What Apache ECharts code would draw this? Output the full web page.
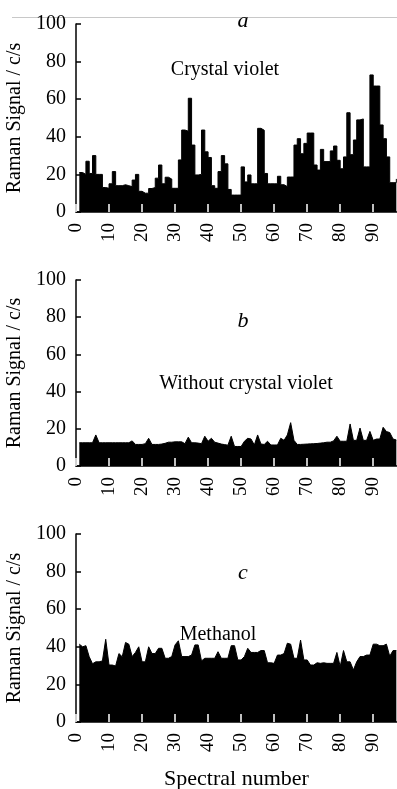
<!DOCTYPE html>
<html><head><meta charset="utf-8">
<script src="https://cdn.jsdelivr.net/npm/echarts@6/dist/echarts.min.js"></script>
<style>html,body{margin:0;padding:0;background:#fff}#c{width:397px;height:789px}</style>
</head><body><div id="c"></div>
<script>
// Spectral numbers start at 1
const spectralStart = 1;
// Panel a: Crystal violet
const crystalViolet = [21,20,27,20.5,30,20,20,13,12.6,15,21.5,14,14,14.5,14,13.5,17,20,11,10,10,12.5,13,18,25,15,18.5,17.5,12.6,12.6,
  27.7,43.6,43,60.5,35.6,19.7,20,43.6,32,29,14,12.6,21.5,30,25.6,12,9,9,9,24,16,19.7,15,15,44.5,43.5,20.5,15,15,15,
  19,14.5,13.5,18.6,18.6,35.6,39,31,36.5,42,42,25,22.3,33.3,26.8,26.8,32.5,35.1,27.5,23,29.3,52.8,30.5,38.3,49,49.5,24,24,
  72.9,67,67,46.3,39,29.3,15.6,15.6,17.6];
// Panel b: Without crystal violet
const withoutCV = [12.5,12.5,12.5,12.5,12.5,16.7,12.5,12.5,12.5,12.5,12.5,12.5,12.5,12.5,12.5,12.5,13.5,11.6,11.6,11.6,12,14.9,11.6,11.6,11.6,11.8,12.2,12.8,12.8,13,
  13,13,12,15.5,12.5,12.5,12.3,12,16,13.3,14.9,12.8,12.3,11.8,11.5,11.2,16,10.5,10.5,10.5,13.3,14.9,14.5,11.3,16.7,11.8,11.6,13.3,11.3,11.3,
  11.3,14.9,13.8,16.7,23.3,13.8,11.6,11.6,11.7,11.8,11.9,12,12.1,12.3,12.5,12.8,12.8,13.5,16,13.3,13.3,13.3,22.6,13.8,13.8,20.4,13.8,13.8,
  18.6,13.8,14.5,14.5,20.8,18.5,18,14.5,14];
// Panel c: Methanol
const methanol = [41.4,40,40.6,34.7,31,32,32,32.5,44,30.3,30.3,29.8,36.4,34.7,42.3,41.4,34.8,37,40,32,32,40,36.4,36.4,39.2,39.2,33.9,33.9,34.8,41,
  43.2,34.8,34.8,34.8,35.6,41,41,32.5,33.9,33.9,33.9,33.9,37.4,33.9,33.9,33.9,40.6,40.6,33,33,34.8,39.2,37,37,37,38,38,31.5,31.5,31.2,
  35.6,35.6,36.4,41.9,41.4,33.9,33.9,43.6,33,33,30.3,30.3,31.5,31.2,31.5,31.2,31.2,31.2,37,29.5,38,32,32,27.7,32,34.8,34.8,35.6,35.6,41.4,
  41.4,40.6,40.6,41.4,35,38,38];
const xTicks = [0,10,20,30,40,50,60,70,80,90];
const panelLetters = ['a','b','c'];
const panelNames = ['Crystal violet','Without crystal violet','Methanol'];
const yName = 'Raman Signal / c/s';
const xName = 'Spectral number';

const FONT = '"Liberation Serif","Times New Roman",serif';
const series = [crystalViolet, withoutCV, methanol];
const tops = [24, 280, 534];
const heights = [188, 186, 188];

const grids = [], xAxes = [], yAxes = [], ser = [];
series.forEach((vals, i) => {
  grids.push({left: 76, top: tops[i], width: 321, height: heights[i], containLabel: false, outerBoundsMode: 'none'});
  xAxes.push({
    type: 'value', gridIndex: i, min: 0, max: 97.2, z: 5,
    axisLine: {show: true, onZero: false, lineStyle: {color: '#000', width: 1.5}},
    axisTick: {show: true, inside: true, length: 8, customValues: xTicks, lineStyle: {color: '#fff', width: 1.5}},
    axisLabel: {show: true, rotate: 90, customValues: xTicks, fontSize: 19, fontFamily: FONT, color: '#000', margin: 11},
    splitLine: {show: false},
    name: i === 2 ? xName : '', nameLocation: 'middle', nameGap: 46,
    nameTextStyle: {fontSize: 22, fontFamily: FONT, color: '#000'}
  });
  yAxes.push({
    type: 'value', gridIndex: i, min: 0, max: 100, interval: 20, offset: 2,
    axisLine: {show: true, lineStyle: {color: '#000', width: 1.5}},
    axisTick: {show: true, inside: true, length: 5, lineStyle: {color: '#000', width: 1.5}},
    axisLabel: {fontSize: 20, fontFamily: FONT, color: '#000', margin: 8},
    splitLine: {show: false},
    name: yName, nameLocation: 'middle', nameGap: 45,
    nameTextStyle: {fontSize: 20, fontFamily: FONT, color: '#000'}
  });
  ser.push({
    type: 'line', xAxisIndex: i, yAxisIndex: i,
    data: vals.map((v, k) => [spectralStart + k, v]),
    step: i === 0 ? 'end' : false,
    symbol: 'none', showSymbol: false,
    lineStyle: {color: '#000', width: 1},
    areaStyle: {color: '#000', opacity: 1},
    animation: false
  });
});

const graphics = [
  {type: 'line', shape: {x1: 12, y1: 17.5, x2: 397, y2: 17.5}, style: {stroke: '#c8c8c8', lineWidth: 1}}
];
const letterPos = [[243, 21], [243, 321], [243, 573]];
const namePos = [[225, 70], [246, 384], [218, 635]];
panelLetters.forEach((t, i) => {
  graphics.push({type: 'text', x: letterPos[i][0], y: letterPos[i][1], style: {text: t, font: 'italic 22px ' + FONT, fill: '#000', textAlign: 'center', textVerticalAlign: 'middle'}});
  graphics.push({type: 'text', x: namePos[i][0], y: namePos[i][1], style: {text: panelNames[i], font: '20px ' + FONT, fill: '#000', textAlign: 'center', textVerticalAlign: 'middle'}});
});

const chart = echarts.init(document.getElementById('c'), null, {renderer: 'canvas'});
chart.setOption({
  animation: false,
  backgroundColor: '#fff',
  grid: grids, xAxis: xAxes, yAxis: yAxes, series: ser,
  graphic: graphics
});
</script></body></html>
